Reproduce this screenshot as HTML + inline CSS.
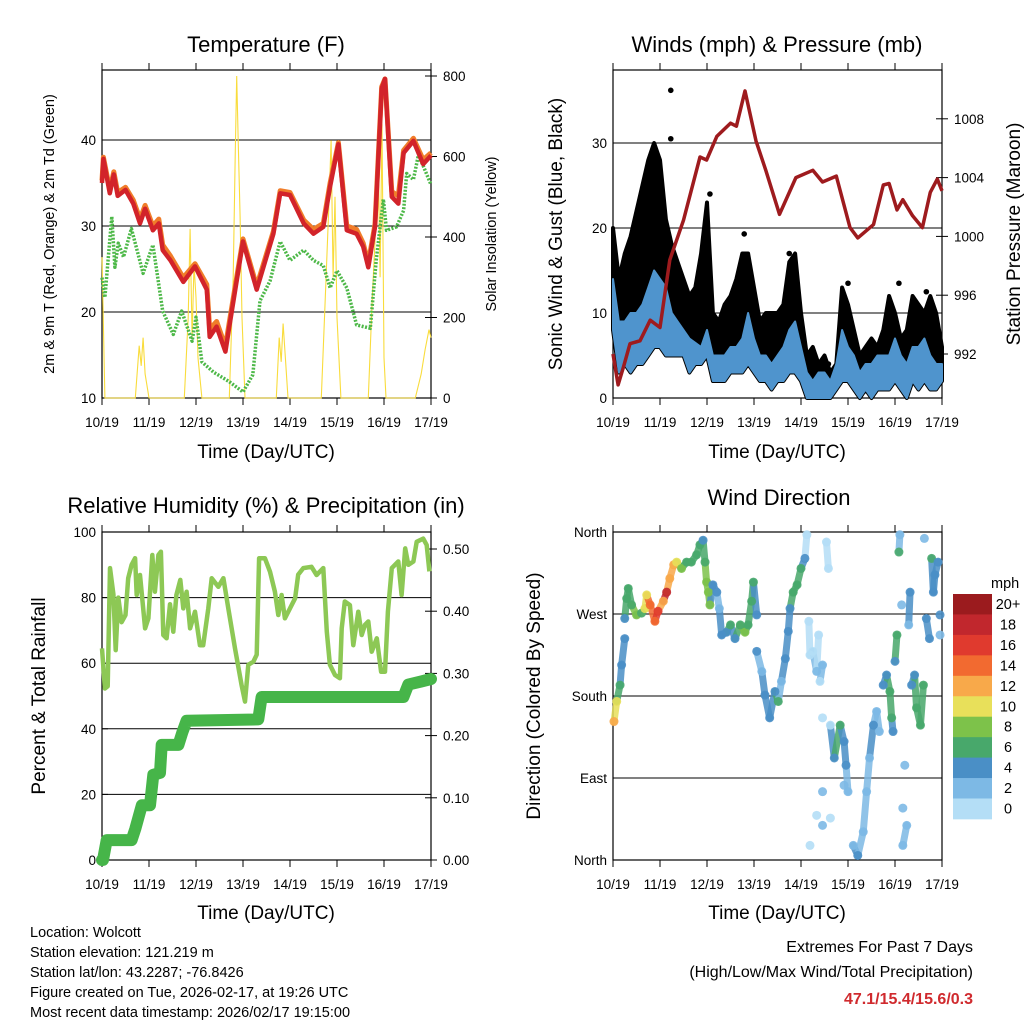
<!DOCTYPE html>
<html><head><meta charset="utf-8"><title>Station Meteogram</title>
<style>
html,body{margin:0;padding:0;background:#fff;}
svg{display:block;font-family:"Liberation Sans",Arial,sans-serif;}
</style></head>
<body>
<svg id="chart" width="1024" height="1024" viewBox="0 0 1024 1024" xmlns="http://www.w3.org/2000/svg">
<rect x="0" y="0" width="1024" height="1024" fill="#fff"/>
<g id="layer"></g>
<text x="266" y="52" font-size="22" text-anchor="middle">Temperature (F)</text>
<text x="777" y="52" font-size="22" text-anchor="middle">Winds (mph) &amp; Pressure (mb)</text>
<text x="266" y="513" font-size="22" text-anchor="middle">Relative Humidity (%) &amp; Precipitation (in)</text>
<text x="779" y="505" font-size="22" text-anchor="middle">Wind Direction</text>
<text x="266" y="458" font-size="19" text-anchor="middle">Time (Day/UTC)</text>
<text x="777" y="458" font-size="19" text-anchor="middle">Time (Day/UTC)</text>
<text x="266" y="919" font-size="19" text-anchor="middle">Time (Day/UTC)</text>
<text x="777" y="919" font-size="19" text-anchor="middle">Time (Day/UTC)</text>
<text transform="translate(54,234) rotate(-90)" font-size="14.5" text-anchor="middle">2m &amp; 9m T (Red, Orange) &amp; 2m Td (Green)</text>
<text transform="translate(496,234) rotate(-90)" font-size="14.5" text-anchor="middle">Solar Insolation (Yellow)</text>
<text transform="translate(562,234) rotate(-90)" font-size="19" text-anchor="middle">Sonic Wind &amp; Gust (Blue, Black)</text>
<text transform="translate(1020,234) rotate(-90)" font-size="19" text-anchor="middle">Station Pressure (Maroon)</text>
<text transform="translate(45,696) rotate(-90)" font-size="19" text-anchor="middle">Percent &amp; Total Rainfall</text>
<text transform="translate(540,696) rotate(-90)" font-size="19" text-anchor="middle">Direction (Colored By Speed)</text>
<g font-size="14.5">
<text x="30" y="937">Location: Wolcott</text>
<text x="30" y="957">Station elevation: 121.219 m</text>
<text x="30" y="977">Station lat/lon: 43.2287; -76.8426</text>
<text x="30" y="997">Figure created on Tue, 2026-02-17, at 19:26 UTC</text>
<text x="30" y="1017">Most recent data timestamp: 2026/02/17 19:15:00</text>
</g>
<g font-size="16" text-anchor="end">
<text x="973" y="952">Extremes For Past 7 Days</text>
<text x="973" y="977">(High/Low/Max Wind/Total Precipitation)</text>
<text x="973" y="1004" fill="#d02a2e" font-weight="bold">47.1/15.4/15.6/0.3</text>
</g>
</svg>
<script>
const dayLabels = ["10/19","11/19","12/19","13/19","14/19","15/19","16/19","17/19"];
const tempTicks = [10,20,30,40];
const solarTicks = [0,200,400,600,800];
const windTicks = [0,10,20,30];
const presTicks = [992,996,1000,1004,1008];
const rhTicks = [0,20,40,60,80,100];
const precipTicks = ["0.00","0.10","0.20","0.30","0.40","0.50"];
const dirLabels = ["North","East","South","West","North"];
const speedBins = ["0","2","4","6","8","10","12","14","16","18","20+"];

const tempHours = [0,0.7,4,6,8,12,16,19.4,22,26,29,31,35,41.5,47.5,53.5,55,58.5,63,65,72,79,87.5,91,96,103,108,113,116.5,120.7,125,130,133.4,136,139.4,142.8,144.5,148,151.3,154,159,164,168];
const tempRed =   [35,37.8,33.8,36,33.5,34.2,32.6,30.3,32,29.5,30.3,27.2,26,23.5,25.3,22.6,17.1,18.3,15.4,18.3,28.2,22.6,29.1,33.8,33.6,30.3,29.1,29.9,34.6,39.5,29.5,29.1,27.6,25.2,29.9,46,47.1,33.4,32.6,38.5,39.9,37.2,38.2];
const tempOrange =[35.3,38,34.2,36.3,33.9,34.5,33,30.8,32.4,30,30.8,27.8,26.5,24,25.6,23.2,18,18.9,16,18.8,28.5,23,29.4,34.1,33.9,30.7,29.6,30.3,35,39.7,30,29.6,28,25.7,30.2,46.2,47.1,34,33.5,38.8,40.2,37.7,38.5];
const dewHours = [0,1.5,5,6.6,8.3,11,15,21,26,31,36.4,40.7,46,48,51,57,65,72,77,80.7,85.8,91,96,103,108,113,116.5,120,125,130,137,140,143.7,145.3,150.4,154,155.6,159,161.5,164,168];
const dewVals = [24,21.7,31.1,25.2,28,26.4,29.7,24.5,27.8,20.1,17.4,20.1,16.6,19.4,14.2,13,11.9,10.7,12.7,21.3,23.6,28.2,26,27.2,26,25.4,22.8,24.8,22.8,18.5,18.1,26,33.1,29.5,29.9,31.8,36.1,35.4,38.2,37,34.8];
const solarHours = [0,1.5,17,19,20,21,22,24,42,44,45,46,47,48,49,51,65,67,68,68.8,69.5,70.5,71.5,73,89,90.5,91.5,92.5,93.5,95,112,114,116,117,118,119,120,122,136,138,139.5,141,142,143,144,145,160,163,165,167,168];
const solarVals = [350,0,0,130,80,150,60,0,0,200,420,150,330,250,100,0,0,300,600,800,650,450,200,0,0,150,90,185,110,0,0,250,500,640,300,500,200,0,0,250,400,620,300,680,100,0,0,60,120,170,150];

const presHours = [0,2.6,5.3,8.7,13.8,19,24,29,36,44.4,47.8,53,60,63,67.4,73,78,85,93.4,102,107,114,121,125,133,138,141,145,148,153,158,162,165.6,168];
const presVals = [992,989.9,991.1,992.7,992.9,994.3,993.8,998.4,1001.1,1005.4,1005.2,1006.8,1007.7,1007.5,1009.9,1006.5,1004.5,1001.5,1004,1004.5,1003.7,1004.1,1000.6,999.9,1000.8,1003.5,1003.6,1001.8,1002.5,1001.4,1000.6,1003,1003.9,1003.1];
const windHours = [0,3,6,9,12,15,18,21,24,27,30,33,36,39,42,45,48,51,54,57,60,63,66,69,72,75,78,81,84,87,90,93,96,99,102,105,108,111,114,117,120,123,126,129,132,135,138,141,144,147,150,153,156,159,162,165,168];
const windLo = [8,3,4,3,4,4,5,6,6,5,5,5,5,3,4,4,5,2,2,2,3,3,3,4,3,2,2,1,2,2,3,3,2,0,0,0,0,0,1,2,2,1,0,1,0,1,1,1,2,1,0,2,1,2,1,1,2];
const windHi = [14,9,9,10,10,11,13,15,14,13,10,9,8,7,6.5,6,8,5,5,5,6,6,7,10,7,5,5,4,5,6,8,9,6,3,2,3,3,2,4,8,6,5,3,4,4,5,5,5,7,5,4,6,6,7,5,4,4];
const gustHi = [20,14,17,19,22,25,28,30,28,21,18,16,14,12,13,17,23,10,9,11,12,14,17,17,13,9,10,10,10,11,16,17,10,5,6,4,5,3,4,13,11,8,5,6,7,6,8,12,10,7,8,12,11,10,12,10,6];
const gustOutHours = [29.5,29.5,48,49.5,67,90,103,110,120,146,160];
const gustOutVals = [36.2,30.5,20,24,19.3,17,5,4,13.5,13.5,12.5];

const rhHours = [0,1.5,2.9,4.1,5.8,7,8.3,10,12,13.4,15.1,16.9,17.7,19.4,22,23.7,25.7,27,28.8,30.1,31.3,33,34.7,36.4,38,40,41.5,43.2,45,47.5,50,51.7,54.3,56,59.4,62,64.5,67.9,71.3,73,74.7,77.3,79,80.2,83.2,85.8,88.3,90,91.7,93.4,96,98.6,100.2,102.8,107,109.6,113,114.8,116.4,119,121.5,122.4,124,126.6,128.3,130.9,132.6,134.3,136,137.7,140.3,142.5,144.5,146,148,151.3,153,154.8,156.4,159,160.7,164,165.8,167.2];
const rhVals = [64.5,52.3,53,89,81,64,80,72.5,74.7,85.9,90,92,80.8,86.9,70.6,73.7,93,81.8,93,94,68.6,67.6,78,69.6,80.8,85.4,76.7,81.8,70.6,75.7,65.5,65.5,76.7,85.9,83.3,85.9,76.7,64.5,53.3,48.3,59.5,60.5,62.6,92,92,87.9,81.8,74.7,80.8,73.7,76.7,79.8,87,89,89.4,86.9,89,69.6,59.5,56.4,55.4,70.6,78.8,77.7,65.5,75.7,68.6,71.7,72.7,63.5,67.6,57.4,57.4,75.7,89,91,80.8,95,90,91,97,98,96,88];
const precipHours = [0,0.5,2.4,15.1,17,20.3,24.5,26.2,29.6,30.5,39,41,43.2,79.8,81.5,153.9,156.4,163,168];
const precipVals = [0,0,0.032,0.032,0.05,0.088,0.088,0.137,0.14,0.185,0.185,0.205,0.224,0.226,0.262,0.262,0.282,0.287,0.291];

const dirHours = [0.5,1.9,3.6,4.4,6,6,7,7.8,9.5,12,14.6,16.3,17.2,19,21.4,23,25.7,27.4,29,31,32.5,35,37.6,40,42.7,44.4,46,47,47.8,48.7,49.5,51,53,54.3,55.5,58,60,62.3,65,67.4,69,70.8,71.7,73.4,73.4,76,77.6,80,82.7,84.4,86,88,89.5,90.4,92,94,96,98,99,100,100.6,102,104,105,105.7,107,107,109,110,111,113,116,118,119,120,118,107,107,111,100.6,104,122.7,125,127.8,129.5,131,133,134.6,136,138,139.7,141.4,142.3,143,144,145,146,146.5,147.4,149,148,148,150,151,151.7,152.5,154,155,157,158.5,159,160,161.6,162.7,163.6,164.4,166,167,167];
const dirVals = [152,174,192,214,243,265,287,298,280,269,271,276,291,280,262,273,284,294,309,324,327,320,327,327,335,346,351,327,305,294,280,302,294,276,247,250,258,243,258,250,258,284,305,269,229,207,181,156,185,174,196,221,251,276,294,302,320,331,357,262,225,229,207,247,196,214,156,349,320,148,112,148,130,104,75,82,75,38,46,16,49,16,5,31,75,112,148,163,141,192,203,185,156,141,218,247,338,357,280,104,57,16,38,258,294,192,203,167,148,192,353,265,243,331,294,313,327,269,247];
const dirSpeeds = [12,11,6,4,5,4,6,7,7,9,7,10,10,14,15,16,12,18,12,12,10,9,6,6,6,6,5,7,8,9,9,5,4,2,4,5,6,4,6,8,6,6,6,5,4,2,4,4,4,6,3,4,4,4,6,7,6,4,0,0,0,1,2,1,0,3,1,1,0,1,4,6,4,4,3,2,2,2,1,1,0,3,4,2,2,2,4,3,2,4,4,6,6,4,4,6,7,2,2,2,2,2,2,2,4,4,4,6,6,6,2,4,4,6,4,4,4,4,2];
const binColors = ["#b4def6","#7db9e5","#4a8fc6","#48a86b","#7dc24a","#e8e05a","#f8a94a","#f26a30","#e03a2e","#c1272d","#9b1b1e"];

const NS = "http://www.w3.org/2000/svg";
const layer = document.getElementById("layer");
function mk(tag, attrs, parent){
  const e = document.createElementNS(NS, tag);
  for (const k in attrs) e.setAttribute(k, attrs[k]);
  (parent||layer).appendChild(e);
  return e;
}
function pathFrom(xs, ys, xf, yf){
  let d = "";
  for (let i=0;i<xs.length;i++) d += (i?"L":"M") + xf(xs[i]).toFixed(1) + "," + yf(ys[i]).toFixed(1);
  return d;
}
function bandPath(xs, lo, hi, xf, yf){
  let d = "";
  for (let i=0;i<xs.length;i++) d += (i?"L":"M") + xf(xs[i]).toFixed(1) + "," + yf(hi[i]).toFixed(1);
  for (let i=xs.length-1;i>=0;i--) d += "L" + xf(xs[i]).toFixed(1) + "," + yf(lo[i]).toFixed(1);
  return d + "Z";
}
function makeX(x0){ return h => x0 + h/168*329; }

function drawFrame(x0, y0, name){
  const g = mk("g", {});
  
  
  mk("rect", {x:x0, y:y0, width:329, height:328, fill:"none", stroke:"#000", "stroke-width":1.2}, g);
  const xf = makeX(x0);
  dayLabels.forEach((lab, i) => {
    const x = xf(i*24);
    mk("line", {x1:x, x2:x, y1:y0-7, y2:y0, stroke:"#000"}, g);
    mk("line", {x1:x, x2:x, y1:y0+328, y2:y0+335, stroke:"#000"}, g);
    const t = mk("text", {x:x, y:y0+357, "font-size":13.5, "text-anchor":"middle"}, g);
    t.textContent = lab;
    
    
  });
  return g;
}
function grid(x0, y, g){ mk("line", {x1:x0, x2:x0+329, y1:y, y2:y, stroke:"#000", "stroke-width":1}, g); }
function leftLabel(x0, y, txt, g){
  mk("line", {x1:x0, x2:x0+6, y1:y, y2:y, stroke:"#000"}, g);
  const t = mk("text", {x:x0-6, y:y+5, "font-size":13.5, "text-anchor":"end"}, g);
  t.textContent = txt;
  
  
}
function rightLabel(x1, y, txt, g){
  mk("line", {x1:x1-6, x2:x1+6, y1:y, y2:y, stroke:"#000"}, g);
  const t = mk("text", {x:x1+12, y:y+5, "font-size":13.5, "text-anchor":"start"}, g);
  t.textContent = txt;
  
  
}

(function(){
  const x0=102, y0=70, xf=makeX(x0);
  const yT = v => 398 - (v-10)*8.6;
  const yS = v => 398 - v*0.4025;
  const g = drawFrame(x0, y0, 'temperature-panel');
  tempTicks.forEach(v => { if (v>10) grid(x0, yT(v), g); leftLabel(x0, yT(v), String(v), g); });
  solarTicks.forEach(v => rightLabel(x0+329, yS(v), String(v), g));
  const sol = mk("path", {d:pathFrom(solarHours, solarVals, xf, yS), fill:"none", stroke:"#f9dc3c", "stroke-width":1.1});
  
  
  const dew = mk("path", {d:pathFrom(dewHours, dewVals, xf, yT), fill:"none", stroke:"#4db848", "stroke-width":3.5, "stroke-dasharray":"2 1.5", "stroke-linejoin":"round"});
  
  
  const or = mk("path", {d:pathFrom(tempHours, tempOrange, xf, yT), fill:"none", stroke:"#f07d2a", "stroke-width":5, "stroke-linejoin":"round"});
  
  
  const rd = mk("path", {d:pathFrom(tempHours, tempRed, xf, yT), fill:"none", stroke:"#d2232a", "stroke-width":4.5, "stroke-linejoin":"round"});
  
  
})();

(function(){
  const x0=613, y0=70, xf=makeX(x0);
  const yW = v => 398 - v*8.5;
  const yP = p => 354 - (p-992)*14.7;
  const g = drawFrame(x0, y0, 'winds-panel');
  windTicks.forEach(v => { if (v>0) grid(x0, yW(v), g); leftLabel(x0, yW(v), String(v), g); });
  presTicks.forEach(v => rightLabel(x0+329, yP(v), String(v), g));
  const gust = mk("path", {d:bandPath(windHours, windLo, gustHi, xf, yW), fill:"#000", stroke:"#000", "stroke-width":4, "stroke-linejoin":"round"});
  
  
  for (let i=0;i<gustOutHours.length;i++){
    const c = mk("circle", {cx:xf(gustOutHours[i]), cy:yW(gustOutVals[i]), r:2.8, fill:"#000"});
    
    
  }
  const wind = mk("path", {d:bandPath(windHours, windLo, windHi, xf, yW), fill:"#4f94cd", stroke:"#4f94cd", "stroke-width":2, "stroke-linejoin":"round"});
  
  
  const pr = mk("path", {d:pathFrom(presHours, presVals, xf, yP), fill:"none", stroke:"#9e1b1e", "stroke-width":3.5, "stroke-linejoin":"round"});
  
  
})();

(function(){
  const x0=102, y0=532, xf=makeX(x0);
  const yR = v => 860 - v*3.28;
  const yPr = v => 860 - v*622;
  const g = drawFrame(x0, y0, 'humidity-panel');
  rhTicks.forEach(v => { if (v>0 && v<100) grid(x0, yR(v), g); leftLabel(x0, yR(v), String(v), g); });
  precipTicks.forEach(v => rightLabel(x0+329, yPr(parseFloat(v)), v, g));
  const pp = mk("path", {d:pathFrom(precipHours, precipVals, xf, yPr), fill:"none", stroke:"#46b549", "stroke-width":12, "stroke-linejoin":"round", "stroke-linecap":"round"});
  
  
  const rh = mk("path", {d:pathFrom(rhHours, rhVals, xf, yR), fill:"none", stroke:"#8dc855", "stroke-width":4.5, "stroke-linejoin":"round"});
  
  
})();

(function(){
  const x0=613, y0=532, xf=makeX(x0);
  const yD = d => 860 - d*0.9111;
  const g = drawFrame(x0, y0, 'wind-direction-panel');
  dirLabels.forEach((lab, i) => { const y = yD(i*90); if (i>0 && i<4) grid(x0, y, g); leftLabel(x0, y, lab, g); });
  const col = s => binColors[Math.min(10, Math.floor(s/2))];
  for (let i=1;i<dirHours.length;i++){
    const dh = dirHours[i]-dirHours[i-1], dd = Math.abs(dirVals[i]-dirVals[i-1]);
    if (dh>0 && dh<3.2 && dd<45){
      const l = mk("line", {x1:xf(dirHours[i-1]), y1:yD(dirVals[i-1]), x2:xf(dirHours[i]), y2:yD(dirVals[i]), stroke:col(dirSpeeds[i]), "stroke-width":7, "stroke-linecap":"round", opacity:0.85});
      
      
    }
  }
  for (let i=0;i<dirHours.length;i++){
    const c = mk("circle", {cx:xf(dirHours[i]), cy:yD(dirVals[i]), r:4.5, fill:col(dirSpeeds[i]), opacity:0.9});
    
    
  }
  const cb = mk("g", {});
  
  
  const t0 = mk("text", {x:991, y:588, "font-size":14.5}, cb);
  t0.textContent = "mph";
  const top=594, bh=20.45;
  for (let k=0;k<speedBins.length;k++){
    const idx = speedBins.length-1-k;
    mk("rect", {x:953, y:top+k*bh, width:39, height:bh+0.4, fill:binColors[idx]}, cb);
    const t = mk("text", {x:1008, y:top+k*bh+15, "font-size":14.5, "text-anchor":"middle"}, cb);
    t.textContent = speedBins[idx];
    
    
  }
})();
</script>
</body></html>
